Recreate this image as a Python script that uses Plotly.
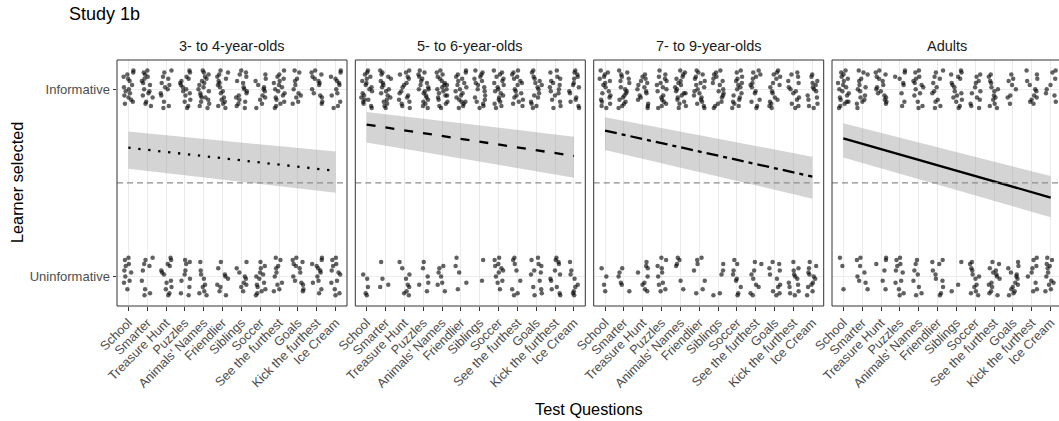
import plotly.graph_objects as go

W, H = 1059, 421

QUESTIONS = ["School", "Smarter", "Treasure Hunt", "Puzzles", "Animals' Names",
             "Friendlier", "Siblings", "Soccer", "See the furthest", "Goals",
             "Kick the furthest", "Ice Cream"]
PANELS = ["3- to 4-year-olds", "5- to 6-year-olds", "7- to 9-year-olds", "Adults"]

# counts of responses per question (Informative = 1, Uninformative = 0)
INFO_3_4 = [16, 16, 13, 16, 20, 17, 17, 12, 18, 11, 14, 13]
UNINF_3_4 = [10, 9, 13, 10, 9, 9, 9, 14, 10, 13, 12, 12]
INFO_5_6 = [20, 19, 17, 20, 22, 20, 18, 19, 17, 16, 16, 15]
UNINF_5_6 = [5, 4, 9, 6, 7, 5, 2, 11, 8, 12, 12, 9]
INFO_7_9 = [18, 18, 16, 17, 20, 19, 17, 17, 14, 16, 14, 14]
UNINF_7_9 = [4, 6, 9, 10, 6, 7, 5, 9, 9, 11, 12, 12]
INFO_ADULT = [20, 15, 16, 9, 14, 12, 16, 12, 13, 8, 12, 8]
UNINF_ADULT = [3, 8, 6, 11, 8, 10, 3, 12, 14, 14, 9, 12]

# jitter offsets (hand-set pattern)
JIT_X = [-0.21, 0.12, -0.05, 0.27, -0.28, 0.03, 0.18, -0.14, 0.24, -0.09, 0.07, -0.25,
         0.15, -0.01, 0.29, -0.18, 0.09, -0.23, 0.2, -0.11, 0.01, 0.26, -0.16]
JIT_Y = [0.033, -0.078, 0.089, -0.011, 0.056, -0.1, 0.0, 0.067, -0.044, 0.1, -0.056,
         0.022, -0.089, 0.044, -0.022, 0.078, -0.067, 0.011, -0.033]

# fitted line & ribbon at first and last question
FIT_X = [1, 12]
FIT_3_4 = [0.688, 0.564]; LO_3_4 = [0.575, 0.448]; HI_3_4 = [0.774, 0.667]
FIT_5_6 = [0.811, 0.644]; LO_5_6 = [0.715, 0.528]; HI_5_6 = [0.879, 0.747]
FIT_7_9 = [0.779, 0.534]; LO_7_9 = [0.676, 0.416]; HI_7_9 = [0.851, 0.640]
FIT_ADULT = [0.738, 0.422]; LO_ADULT = [0.635, 0.317]; HI_ADULT = [0.819, 0.537]

INFO = [INFO_3_4, INFO_5_6, INFO_7_9, INFO_ADULT]
UNINF = [UNINF_3_4, UNINF_5_6, UNINF_7_9, UNINF_ADULT]
FIT = [FIT_3_4, FIT_5_6, FIT_7_9, FIT_ADULT]
LO = [LO_3_4, LO_5_6, LO_7_9, LO_ADULT]
HI = [HI_3_4, HI_5_6, HI_7_9, HI_ADULT]
DASHES = ["2.3px,7.7px", "9px,10px", "12px,5px,4px,5px", "solid"]

FONT = "Liberation Sans, Arial, sans-serif"
PX_LEFT = [117, 355.3, 593.7, 832]
PANEL_W = 230
Y_TOP, Y_BOT = 60, 306
YR = [-0.157, 1.156]
XR_FULL = [0.4, 12.6]

fig = go.Figure()
layout = dict(width=W, height=H, margin=dict(l=0, r=0, t=0, b=0),
              paper_bgcolor="white", plot_bgcolor="white", showlegend=False,
              font=dict(family=FONT))
shapes = []
annotations = []

for p in range(4):
    sfx = "" if p == 0 else str(p + 1)
    xa, ya = "x" + sfx, "y" + sfx
    left = PX_LEFT[p]
    right = left + PANEL_W
    if p == 3:
        xr = [0.4, 0.4 + (W - left) / (PANEL_W / 12.2)]
        dom = [left / W, 1.0]
    else:
        xr = XR_FULL
        dom = [left / W, right / W]
    ydom = [(H - Y_BOT) / H, (H - Y_TOP) / H]

    # points
    px, py = [], []
    for c in range(12):
        for row, counts in ((1, INFO[p]), (0, UNINF[p])):
            n = counts[c]
            sx = c * 7 + p * 5 + row * 11
            sy = c * 5 + p * 3 + row * 7
            for i in range(n):
                px.append(c + 1 + JIT_X[(sx + i * 5) % len(JIT_X)])
                py.append(row + JIT_Y[(sy + i * 7) % len(JIT_Y)])
    fig.add_trace(go.Scatter(x=px, y=py, mode="markers", xaxis=xa, yaxis=ya,
                             marker=dict(size=4.5, color="rgba(0,0,0,0.62)", line=dict(width=0)),
                             hoverinfo="skip"))
    # ribbon
    fig.add_trace(go.Scatter(x=[FIT_X[0], FIT_X[1], FIT_X[1], FIT_X[0], FIT_X[0]],
                             y=[HI[p][0], HI[p][1], LO[p][1], LO[p][0], HI[p][0]],
                             mode="lines", fill="toself", fillcolor="rgba(153,153,153,0.42)",
                             line=dict(width=0), xaxis=xa, yaxis=ya, hoverinfo="skip"))
    # fitted line
    fig.add_trace(go.Scatter(x=FIT_X, y=FIT[p], mode="lines", xaxis=xa, yaxis=ya,
                             line=dict(color="black", width=2.3, dash=DASHES[p]),
                             hoverinfo="skip"))
    # chance line
    fig.add_trace(go.Scatter(x=[xr[0], xr[1]], y=[0.5, 0.5], mode="lines", xaxis=xa, yaxis=ya,
                             line=dict(color="#8c8c8c", width=1.2, dash="6px,4px"),
                             hoverinfo="skip"))

    layout["xaxis" + sfx] = dict(
        domain=dom, range=xr, anchor=ya, tickmode="array",
        tickvals=list(range(1, 13)), ticktext=QUESTIONS, tickangle=-45,
        tickfont=dict(size=12.7, color="#4d4d4d", family=FONT),
        ticks="outside", ticklen=3.5, tickcolor="#333333", tickwidth=1,
        showgrid=True, gridcolor="#ebebeb", gridwidth=1.3, zeroline=False,
        showline=False, automargin=False, fixedrange=True)
    layout["yaxis" + sfx] = dict(
        domain=ydom, range=YR, anchor=xa, tickmode="array", tickvals=[0, 1],
        ticktext=["Uninformative", "Informative"] if p == 0 else ["", ""],
        showticklabels=(p == 0), tickfont=dict(size=13, color="#4d4d4d", family=FONT),
        ticks="outside" if p == 0 else "", ticklen=3.5, tickcolor="#333333",
        showgrid=True, gridcolor="#ebebeb", gridwidth=1.3, zeroline=False,
        showline=False, automargin=False, fixedrange=True)

    # panel border
    shapes.append(dict(type="rect", xref="paper", yref="paper",
                       x0=left / W, x1=(right / W) if p < 3 else 1.02,
                       y0=ydom[0], y1=ydom[1], line=dict(color="#333333", width=1),
                       fillcolor="rgba(0,0,0,0)", layer="above"))
    # strip label
    annotations.append(dict(text=PANELS[p], xref="paper", yref="paper",
                            x=(left + PANEL_W / 2) / W, y=(H - 46) / H,
                            xanchor="center", yanchor="middle", showarrow=False,
                            font=dict(size=14.5, color="#1a1a1a", family=FONT)))

annotations.append(dict(text="Study 1b", xref="paper", yref="paper", x=67 / W, y=(H - 14) / H,
                        xanchor="left", yanchor="middle", showarrow=False,
                        font=dict(size=18, color="black", family=FONT)))
annotations.append(dict(text="Test Questions", xref="paper", yref="paper",
                        x=589 / W, y=(H - 409) / H,
                        xanchor="center", yanchor="middle", showarrow=False,
                        font=dict(size=16.3, color="black", family=FONT)))
annotations.append(dict(text="Learner selected", xref="paper", yref="paper",
                        x=17 / W, y=(H - 183) / H, textangle=-90,
                        xanchor="center", yanchor="middle", showarrow=False,
                        font=dict(size=16.3, color="black", family=FONT)))

layout["shapes"] = shapes
layout["annotations"] = annotations
fig.update_layout(**layout)
fig.write_html("out.html")
